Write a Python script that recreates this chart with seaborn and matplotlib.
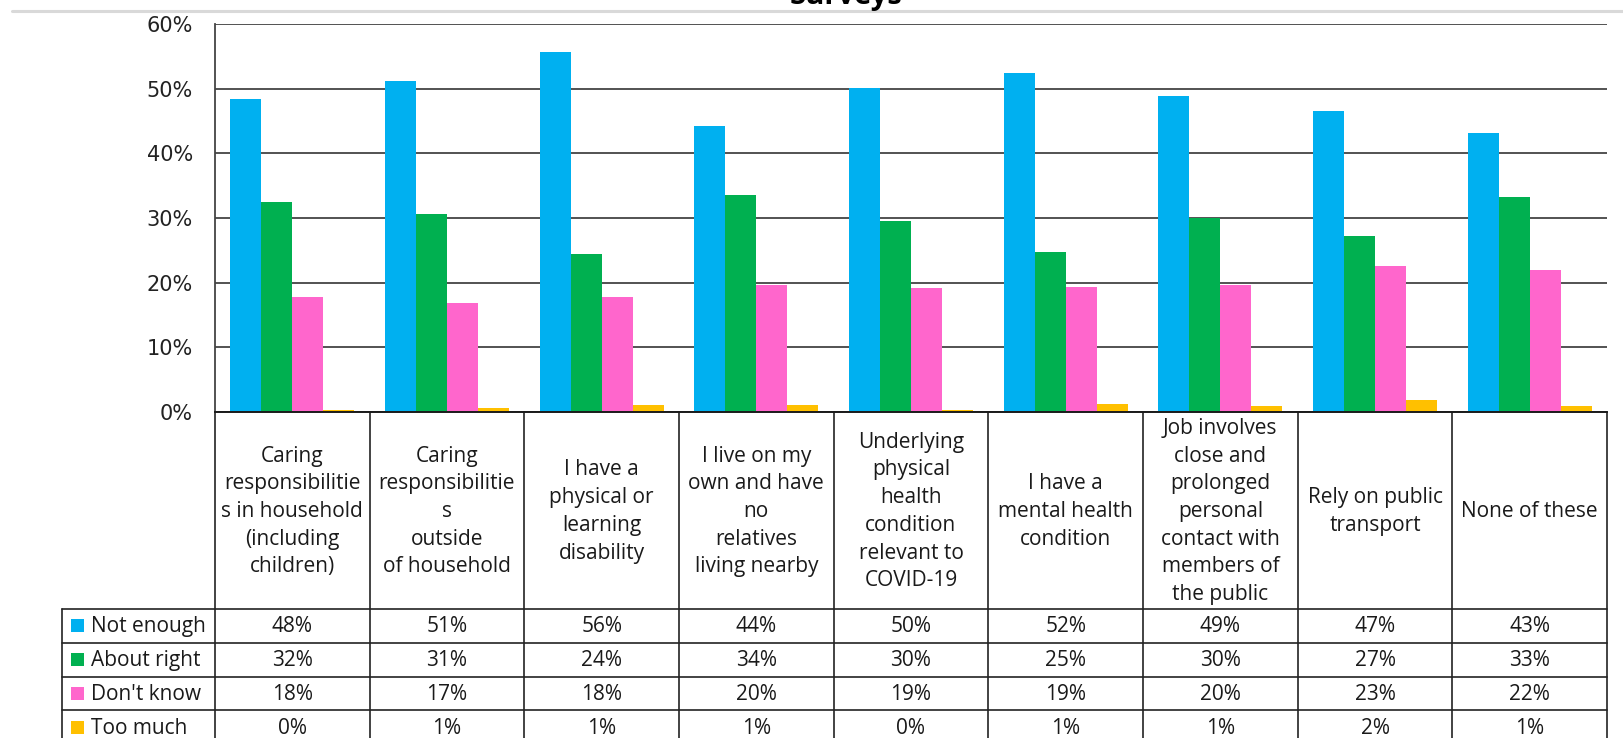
import matplotlib
matplotlib.use("Agg")
import matplotlib.pyplot as plt
from matplotlib.patches import Rectangle
from matplotlib.ticker import FuncFormatter
import numpy as np
import pandas as pd
import seaborn as sns

# ---- data -------------------------------------------------------------
categories = [
    "Caring\nresponsibilitie\ns in household\n(including\nchildren)",
    "Caring\nresponsibilitie\ns\noutside\nof household",
    "I have a\nphysical or\nlearning\ndisability",
    "I live on my\nown and have\nno\nrelatives\nliving nearby",
    "Underlying\nphysical\nhealth\ncondition\nrelevant to\nCOVID-19",
    "I have a\nmental health\ncondition",
    "Job involves\nclose and\nprolonged\npersonal\ncontact with\nmembers of\nthe public",
    "Rely on public\ntransport",
    "None of these",
]
series_names = ["Not enough", "About right", "Don't know", "Too much"]
not_enough = [48.4, 51.2, 55.7, 44.3, 50.1, 52.4, 48.8, 46.6, 43.1]
about_right = [32.4, 30.6, 24.4, 33.6, 29.6, 24.8, 30.0, 27.2, 33.2]
dont_know = [17.8, 16.9, 17.8, 19.6, 19.2, 19.3, 19.6, 22.6, 22.0]
too_much = [0.35, 0.6, 1.08, 1.08, 0.36, 1.29, 0.98, 1.9, 0.98]
series_values = [not_enough, about_right, dont_know, too_much]
colors = ["#00B0F0", "#00B050", "#FF66CC", "#FFC000"]
y_ticks = [0, 10, 20, 30, 40, 50, 60]
title = "Surveys"

# long-form table for seaborn
df = pd.DataFrame({
    "cat": np.tile(np.arange(len(categories)), len(series_names)),
    "series": np.repeat(series_names, len(categories)),
    "value": np.concatenate(series_values),
})

# ---- figure -----------------------------------------------------------
W, H = 1623, 738
sns.set_theme(style="white")
plt.rcParams["font.family"] = ["Open Sans", "DejaVu Sans"]
fig = plt.figure(figsize=(W / 100, H / 100), dpi=100)
fig.patch.set_facecolor("white")

ink = "#1a1a1a"
grid_c = "#444444"

# bar panel (pixel box: left 215, right 1607, top 24, bottom 412)
ax = fig.add_axes([215 / W, 1 - 412 / H, (1607 - 215) / W, (412 - 24) / H])
sns.barplot(data=df, x="cat", y="value", hue="series", hue_order=series_names,
            palette=colors, errorbar=None, width=0.8, saturation=1,
            linewidth=0, ax=ax, legend=False)
ax.set_xlim(-0.5, len(categories) - 0.5)
ax.set_ylim(0, 60)
ax.set_yticks(y_ticks)
ax.yaxis.set_major_formatter(FuncFormatter(lambda v, p: f"{v:.0f}%"))
ax.tick_params(axis="y", length=0, pad=16, labelsize=15, labelcolor="#222222")
for lab in ax.get_yticklabels():
    lab.set_fontfamily("DejaVu Sans")
ax.set_xticks([])
ax.set_xlabel("")
ax.set_ylabel("")
ax.yaxis.grid(True, color=grid_c, linewidth=1.3)
ax.set_axisbelow(True)
for s in ["top", "right"]:
    ax.spines[s].set_visible(False)
ax.spines["left"].set_color(grid_c)
ax.spines["left"].set_linewidth(1.3)
ax.spines["bottom"].set_color(ink)
ax.spines["bottom"].set_linewidth(1.4)

# overlay in pixel coordinates for the data table under the bars
ov = fig.add_axes([0, 0, 1, 1], zorder=-1)
ov.set_xlim(0, W)
ov.set_ylim(H, 0)
ov.set_axis_off()

fig.canvas.draw()
def px_x(xdata):
    return ax.transData.transform((xdata, 0))[0]

col_edges = [px_x(i - 0.5) for i in range(len(categories) + 1)]
y_top = 412
y_head_bottom = 609
row_h = 33.8
row_edges = [y_head_bottom + k * row_h for k in range(len(series_names) + 1)]
legend_left = 62
lc = "#222222"

# vertical column rules
for x in col_edges:
    ov.plot([x, x], [y_top, H + 5], color=lc, lw=1.2, solid_capstyle="butt")
ov.plot([legend_left, legend_left], [y_head_bottom, H + 5], color=lc, lw=1.2)
# horizontal row rules
for y in row_edges:
    ov.plot([legend_left, col_edges[-1]], [y, y], color=lc, lw=1.2)

tsize = 15
# category headers
for i, cat in enumerate(categories):
    xc = (col_edges[i] + col_edges[i + 1]) / 2
    ov.text(xc, (y_top + y_head_bottom) / 2 + 1, cat, ha="center", va="center",
            fontsize=tsize, color=ink, linespacing=1.42, multialignment="center")

# legend column + values
for r, (name, vals, c) in enumerate(zip(series_names, series_values, colors)):
    yc = (row_edges[r] + row_edges[r + 1]) / 2
    ov.add_patch(Rectangle((71, yc - 6.5), 13, 13, color=c, lw=0))
    ov.text(91, yc + 1, name, ha="left", va="center", fontsize=tsize, color=ink)
    for i, v in enumerate(vals):
        xc = (col_edges[i] + col_edges[i + 1]) / 2
        ov.text(xc, yc + 1, f"{v:.0f}%", ha="center", va="center",
                fontsize=tsize, color=ink)

# header separator and title (title sits mostly above the canvas)
ov.plot([12, W], [11, 11], color="#d9d9d9", lw=2.2)
ov.text(846, 4, title, ha="center", va="baseline", fontsize=21,
        fontweight="bold", color="#000000")

fig.savefig("out.png", dpi=100, facecolor="white")
